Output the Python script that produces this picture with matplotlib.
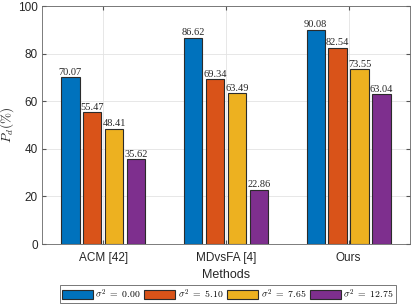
import numpy as np
import matplotlib
matplotlib.use("Agg")
import matplotlib.pyplot as plt

methods = ["ACM [42]", "MDvsFA [4]", "Ours"]
sigmas = ["0.00", "5.10", "7.65", "12.75"]
pd_00 = [70.07, 86.62, 90.08]
pd_51 = [55.47, 69.34, 82.54]
pd_765 = [48.41, 63.49, 73.55]
pd_1275 = [35.62, 22.86, 63.04]
yticks = [0, 20, 40, 60, 80, 100]

COLORS = ["#0072BD", "#D95319", "#EDB120", "#7E2F8E"]

plt.rcParams.update({
    "font.family": ["Liberation Sans", "DejaVu Sans"],
    "mathtext.fontset": "cm",
    "font.size": 8,
})

fig = plt.figure(figsize=(4.15, 3.07), dpi=100)
ax = fig.add_axes([0.101, 0.205, 0.887, 0.775])

x = np.arange(1, len(methods) + 1)
pitch = 0.179
width = 0.15
series = [pd_00, pd_51, pd_765, pd_1275]
for i, vals in enumerate(series):
    xs = x + (i - 1.5) * pitch
    ax.bar(xs, vals, width=width, color=COLORS[i], edgecolor="#2b2b2b",
           linewidth=0.8, label=rf"$\sigma^2\ =\ {sigmas[i]}$", zorder=3)
    for xi, v in zip(xs, vals):
        ax.text(xi, v + 0.2, f"{v:.2f}", ha="center", va="bottom",
                fontsize=7.5, family="Liberation Serif", color="#262626", zorder=4)

ax.set_xlim(0.5, 3.5)
ax.set_ylim(0, 100)
ax.set_xticks(x)
ax.set_xticklabels(methods)
ax.set_yticks(yticks)
ax.grid(True, color="#e3e3e3", linewidth=0.6, zorder=0)
ax.tick_params(direction="in", length=3, color="#555555", labelcolor="#262626",
               labelsize=8.5, top=True, right=True)
ax.tick_params(axis="x", pad=6)
ax.tick_params(axis="y", pad=3)
for s in ax.spines.values():
    s.set_color("#666666")
    s.set_linewidth(0.6)
ax.set_xlabel("Methods", fontsize=9, color="#262626", labelpad=3)
ax.set_ylabel(r"$P_d(\%)$", fontsize=9.5, color="#262626", labelpad=1)

leg = fig.legend(loc="lower center", ncol=4, bbox_to_anchor=(0.549, 0.008),
                 fontsize=7, frameon=True, fancybox=False, edgecolor="#555555",
                 handlelength=3.2, handleheight=0.9, handletextpad=0.25,
                 columnspacing=0.35, borderpad=0.2, borderaxespad=0.2)
leg.get_frame().set_linewidth(0.7)

fig.savefig("out.png", dpi=100)
